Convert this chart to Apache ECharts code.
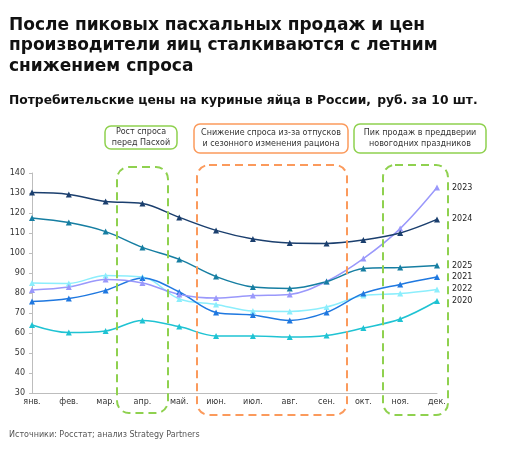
<!DOCTYPE html>
<html><head><meta charset="utf-8">
<script src="https://cdn.jsdelivr.net/npm/echarts@6/dist/echarts.min.js"></script>
<style>html,body{margin:0;padding:0;background:#fff}#c{width:512px;height:457px}</style>
</head><body><div id="c"></div>
<script>
const months = ['янв.','фев.','мар.','апр.','май.','июн.','июл.','авг.','сен.','окт.','ноя.','дек.'];
const s2024 = [130.2,129.3,125.8,124.7,117.8,111.3,107,105,104.8,106.5,110,116.8];
const s2023 = [81.5,83,86.7,85,79.3,77.5,78.7,79.3,85.8,97.2,112.2,132.7];
const s2025 = [117.5,115.2,110.7,102.8,96.8,88.2,83,82.3,85.7,92.2,92.8,93.7];
const s2021 = [75.7,77.2,81.3,87.5,80.5,70.3,69,66.3,70.3,79.8,84.3,88];
const s2022 = [85,84.8,88.8,88,77,74.3,71,70.8,73,78.7,79.7,81.8];
const s2020 = [64,60.2,61,66.3,63.2,58.5,58.5,58,58.8,62.5,67,76];
const yTicks = {min:30, max:140, interval:10};

const seriesDefs = [
  {name:'2020', data:s2020, color:'#1fc3d3'},
  {name:'2022', data:s2022, color:'#8ceefc'},
  {name:'2021', data:s2021, color:'#1f78e0'},
  {name:'2023', data:s2023, color:'#9a98fb'},
  {name:'2025', data:s2025, color:'#167ea2'},
  {name:'2024', data:s2024, color:'#1b3f6e'}
];

const chart = echarts.init(document.getElementById('c'), null, {renderer:'canvas'});
const font = 'DejaVu Sans, Verdana, sans-serif';

function dashedBox(x,y,w,h,color){
  return {type:'rect', z:10, shape:{x:x,y:y,width:w,height:h,r:12},
    style:{fill:'none', stroke:color, lineWidth:2, lineDash:[8,5]}};
}
function noteBox(x,y,w,h,color,text){
  return {type:'group', children:[
    {type:'rect', shape:{x:x,y:y,width:w,height:h,r:6}, style:{fill:'#fff', stroke:color, lineWidth:1.5}},
    {type:'text', style:{x:x+w/2,y:y+h/2,text:text,align:'center',verticalAlign:'middle',
      font:'8px '+font, fill:'#333', lineHeight:11}}
  ]};
}

chart.setOption({
  animation:false,
  textStyle:{fontFamily:font},
  title:[
    {text:'После пиковых пасхальных продаж и цен\nпроизводители яиц сталкиваются с летним\nснижением спроса',
     left:9, top:15, padding:0, textStyle:{fontSize:17, fontWeight:'bold', color:'#111', lineHeight:20.5, fontFamily:font}},
    {text:'{b|Потребительские цены на куриные яйца в России,} {n|руб. за 10 шт.}',
     left:9, top:92, padding:0, textStyle:{rich:{
       b:{fontSize:12.3, fontWeight:'bold', color:'#111', fontFamily:font},
       n:{fontSize:12.3, color:'#111', fontFamily:font}}}},
    {text:'Источники: Росстат; анализ Strategy Partners', left:9, top:431, padding:0,
     textStyle:{fontSize:8, fontWeight:'normal', color:'#555', fontFamily:font}}
  ],
  grid:{left:32, right:75, top:173, bottom:64},
  xAxis:{type:'category', data:months, boundaryGap:false,
    axisLine:{lineStyle:{color:'#bdbdbd'}}, axisTick:{show:false},
    axisLabel:{color:'#333', fontSize:8, margin:5, fontFamily:font}},
  yAxis:{type:'value', min:yTicks.min, max:yTicks.max, interval:yTicks.interval,
    splitLine:{show:false},
    axisLine:{show:true, lineStyle:{color:'#bdbdbd'}},
    axisTick:{show:true, length:3, lineStyle:{color:'#bdbdbd'}},
    axisLabel:{color:'#333', fontSize:8, margin:7, fontFamily:font}},
  series: seriesDefs.map(s=>({
    name:s.name, type:'line', data:s.data, smooth:0.35,
    symbol:'triangle', symbolSize:6, showSymbol:true,
    lineStyle:{color:s.color, width:1.5}, itemStyle:{color:s.color},
    endLabel:{show:true, formatter:'{a}', distance:15, color:'#222', fontSize:8, fontFamily:font}
  })),
  graphic:[
    dashedBox(117,167,51,246,'#8fd14f'),
    dashedBox(197,165,150,250,'#fb9a5c'),
    dashedBox(383,165,65,250,'#8fd14f'),
    noteBox(105,126,72,23,'#8fd14f','Рост спроса\nперед Пасхой'),
    noteBox(194,124,154,29,'#fb9a5c','Снижение спроса из-за отпусков\nи сезонного изменения рациона'),
    noteBox(354,124,132,29,'#8fd14f','Пик продаж в преддверии\nновогодних праздников')
  ]
});
</script></body></html>
